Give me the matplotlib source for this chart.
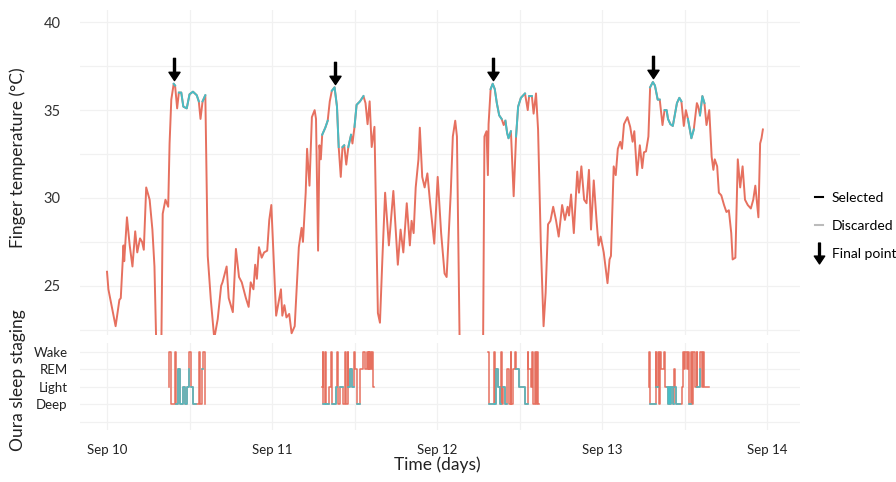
import numpy as np
import matplotlib
matplotlib.use("Agg")
import matplotlib.pyplot as plt
from matplotlib.path import Path
from matplotlib.lines import Line2D

plt.rcParams['font.family'] = ['Lato', 'DejaVu Sans']

RED = '#E6705F'
CYAN = '#47BDC5'
GRID = '#F1F1F1'

# finger temperature, hours since Sep 10 00:00
hours = [0.0, 0.2, 0.7, 1.25, 1.8, 2.0, 2.4, 2.5, 2.9, 3.3, 3.7, 4.1, 4.4, 4.8, 5.1, 5.35,
         5.7, 6.2, 6.6, 6.9, 7.2, 7.5, 7.9, 8.1, 8.5, 8.9, 9.1, 9.35, 9.7, 9.9, 10.2, 10.45,
         10.8, 11.1, 11.6, 12.0, 12.5, 13.05, 13.35, 13.6, 13.9, 14.3, 14.65, 15.1, 15.6, 16.1,
         16.6, 16.8, 17.4, 17.7, 18.3, 18.75, 19.2, 19.6, 20.2, 20.6, 20.9, 21.3, 21.55, 21.8,
         22.1, 22.5, 22.85, 23.3, 23.6, 23.9, 24.3, 24.6, 25.3, 25.5, 25.8, 26.1, 26.5, 26.85,
         27.3, 27.9, 28.3, 28.5, 28.9, 29.1, 29.45, 29.8, 30.2, 30.4, 30.7, 30.9, 31.1, 31.3,
         31.75, 32.1, 32.4, 32.7, 33.1, 33.45, 33.7, 34.0, 34.25, 34.5, 34.8, 35.1, 35.5, 35.7,
         36.0, 36.3, 36.8, 37.3, 37.6, 37.9, 38.2, 38.5, 38.9, 39.4, 39.7, 40.05, 40.45, 41.0,
         41.65, 42.3, 42.7, 43.1, 43.6, 44.05, 44.3, 44.6, 44.9, 45.3, 45.5, 45.85, 46.2, 46.6,
         47.0, 47.6, 48.1, 48.6, 49.1, 49.4, 50.0, 50.3, 50.65, 50.9, 51.3, 51.9, 52.5, 54.0,
         54.7, 54.9, 55.2, 55.4, 55.5, 55.8, 56.1, 56.4, 56.7, 57.05, 57.4, 57.7, 57.95, 58.2,
         58.4, 58.75, 59.15, 59.5, 59.8, 60.2, 60.8, 61.2, 61.4, 61.8, 62.05, 62.4, 62.7, 63.1,
         63.5, 63.8, 64.15, 64.5, 64.9, 65.3, 65.7, 66.2, 66.6, 67.0, 67.2, 67.5, 67.9, 68.4,
         68.65, 69.0, 69.4, 69.75, 70.1, 70.4, 70.8, 71.2, 71.5, 71.8, 72.25, 72.8, 73.1, 73.3,
         73.7, 74.0, 74.3, 74.65, 74.9, 75.2, 75.7, 76.1, 76.45, 76.7, 77.1, 77.5, 77.85, 78.1,
         78.4, 78.75, 79.0, 79.4, 79.7, 80.1, 80.4, 80.8, 81.1, 81.4, 81.6, 81.95, 82.3, 82.9,
         83.25, 83.55, 83.9, 84.2, 84.5, 85.0, 85.35, 85.8, 86.0, 86.25, 86.6, 86.9, 87.2, 87.6,
         87.95, 88.2, 88.4, 88.75, 89.0, 89.35, 89.75, 90.1, 90.45, 90.8, 91.0, 91.4, 91.75,
         92.1, 92.45, 92.8, 93.2, 93.65, 94.0, 94.3, 94.75, 95.0, 95.2, 95.4]
temp = [25.8, 24.8, 23.8, 22.7, 24.2, 24.3, 27.3, 26.4, 28.9, 27.3, 26.1, 28.1, 26.9, 27.7, 27.5, 27.05,
        30.6, 29.9, 28.2, 26.1, 21.0, 19.5, 21.5, 29.1, 29.9, 29.5, 33.1, 35.6, 36.5, 36.4, 35.1, 36.0,
        36.0, 35.2, 35.1, 35.9, 36.05, 35.85, 35.5, 34.5, 35.5, 35.85, 26.7, 24.2, 22.0, 23.1,
        25.0, 25.2, 26.1, 24.3, 23.5, 27.1, 25.5, 25.2, 24.3, 23.8, 25.2, 24.8, 26.2, 25.4,
        27.2, 26.6, 26.9, 27.0, 28.75, 29.6, 26.0, 23.3, 24.8, 23.3, 23.9, 23.2, 23.4, 22.3,
        22.7, 27.2, 28.3, 27.5, 30.3, 32.8, 30.7, 34.6, 35.0, 34.5, 27.0, 33.0, 32.2, 33.6,
        34.0, 34.4, 35.5, 36.1, 36.3, 35.2, 32.9, 31.2, 32.9, 33.0, 31.9, 32.9, 33.6, 33.1,
        34.05, 35.3, 35.5, 35.8, 35.4, 34.2, 35.5, 32.9, 34.05, 23.45, 22.9, 26.5, 30.3, 27.3,
        30.4, 26.2, 28.2, 26.9, 29.7, 27.3, 28.7, 28.0, 30.6, 32.2, 34.0, 31.2, 30.6, 31.4,
        29.7, 27.4, 31.2, 28.0, 25.7, 25.5, 30.3, 33.5, 34.4, 33.5, 21.5, 22.1, 21.0, 19.5,
        21.5, 33.5, 33.8, 31.3, 34.2, 36.2, 36.5, 36.2, 35.4, 34.7, 34.5, 34.15, 34.4, 33.7,
        33.4, 33.8, 30.1, 33.5, 35.2, 35.7, 35.95, 35.0, 35.8, 35.8, 34.8, 35.95, 33.9, 27.4,
        22.7, 24.6, 28.5, 28.7, 29.5, 28.75, 27.8, 29.6, 28.75, 29.5, 29.0, 30.2, 28.0, 31.5,
        30.3, 31.8, 29.9, 29.7, 31.6, 28.2, 31.0, 28.75, 27.3, 27.8, 26.9, 25.15, 26.5, 26.7,
        31.8, 31.3, 32.8, 33.2, 32.8, 34.2, 34.6, 34.05, 33.2, 33.8, 31.3, 33.0, 31.7, 32.6,
        32.65, 33.5, 36.3, 36.6, 36.4, 35.6, 35.6, 34.15, 35.0, 35.0, 34.5, 34.2, 34.1, 35.4,
        35.7, 35.5, 34.1, 35.0, 34.5, 33.4, 33.9, 35.4, 35.2, 34.7, 35.8, 35.4, 34.15, 35.0,
        32.35, 31.6, 32.2, 31.8, 30.3, 30.15, 29.6, 29.2, 29.3, 28.0, 26.5, 26.6, 32.2,
        30.6, 31.8, 29.9, 29.6, 29.4, 29.9, 30.7, 28.9, 33.1, 33.4, 33.9]

# time windows (hours) where the temperature samples were selected
selected_windows = [(9.5, 10.0), (10.4, 13.4), (13.85, 14.35),
                    (31.2, 32.15), (32.6, 33.75), (34.2, 34.55), (35.05, 35.55), (35.95, 37.35),
                    (55.75, 56.75), (57.0, 57.45), (57.9, 58.8), (59.45, 61.0), (61.35, 61.85),
                    (78.9, 80.5), (81.0, 82.35), (82.8, 83.6), (84.4, 85.4), (86.2, 86.95)]

# final points (arrows)
final_hours = [9.7, 33.1, 56.1, 79.4]
final_temp = [36.5, 36.3, 36.5, 36.6]

# Oura sleep staging: 1 Deep, 2 Light, 3 REM, 4 Wake ; (start hour, stage, selected)
nights = [
    [(8.97, 2, 0), (9.0, 4, 0), (9.35, 1, 0), (9.95, 4, 0), (10.0, 2, 0), (10.05, 1, 1),
     (10.3, 3, 1), (10.65, 1, 1), (11.0, 2, 1), (11.4, 1, 1), (11.65, 2, 1), (11.9, 3, 1),
     (11.95, 4, 0), (12.2, 2, 1), (12.5, 1, 1), (12.95, 1, 0), (13.4, 4, 0), (13.55, 1, 0),
     (13.8, 3, 1), (13.95, 4, 0), (14.2, 1, 0), (14.3, 1, 0)],
    [(31.3, 2, 0), (31.35, 4, 0), (31.45, 1, 1), (31.75, 4, 0), (31.85, 1, 1), (32.3, 2, 0),
     (32.6, 4, 0), (32.7, 1, 1), (33.3, 2, 1), (33.45, 4, 0), (33.55, 1, 0), (33.9, 2, 1),
     (34.3, 1, 0), (34.6, 4, 0), (34.7, 1, 0), (35.0, 4, 0), (35.1, 2, 1), (35.4, 3, 1),
     (35.6, 2, 1), (35.9, 4, 0), (36.0, 3, 0), (36.3, 1, 1), (36.8, 3, 0), (37.3, 4, 0),
     (37.5, 3, 0), (37.8, 4, 0), (37.95, 3, 0), (38.05, 4, 0), (38.15, 3, 0), (38.25, 4, 0),
     (38.4, 3, 0), (38.5, 4, 0), (38.7, 2, 0), (38.9, 2, 0)],
    [(55.4, 4, 0), (55.5, 1, 1), (56.3, 4, 0), (56.4, 1, 1), (56.6, 3, 1), (56.8, 2, 1),
     (57.1, 1, 1), (57.3, 4, 0), (57.4, 1, 0), (57.6, 2, 1), (57.9, 1, 1), (58.2, 3, 0),
     (58.4, 2, 0), (58.5, 1, 0), (58.7, 4, 0), (58.8, 1, 0), (59.0, 3, 0), (59.3, 4, 0),
     (59.5, 3, 1), (59.9, 2, 1), (60.4, 2, 1), (60.8, 1, 1), (61.2, 4, 0), (61.3, 3, 0),
     (61.6, 2, 0), (61.8, 4, 0), (62.0, 1, 0), (62.2, 4, 0), (62.4, 1, 0), (62.5, 4, 0),
     (62.7, 1, 0), (62.8, 1, 0)],
    [(78.8, 2, 0), (78.85, 4, 0), (78.95, 1, 1), (79.8, 4, 0), (79.9, 2, 1), (80.1, 4, 0),
     (80.3, 1, 0), (80.45, 4, 0), (80.55, 3, 0), (81.0, 4, 0), (81.2, 2, 0), (81.4, 2, 1),
     (81.6, 1, 1), (81.8, 2, 1), (81.95, 1, 1), (82.1, 2, 1), (82.3, 1, 1), (82.5, 3, 0),
     (82.6, 2, 1), (82.8, 1, 1), (83.35, 1, 0), (83.6, 2, 0), (83.8, 4, 0), (83.9, 3, 0),
     (84.1, 4, 0), (84.3, 3, 0), (84.55, 4, 0), (84.7, 1, 1), (85.0, 4, 0), (85.1, 1, 0),
     (85.3, 4, 0), (85.5, 2, 0), (85.75, 4, 0), (85.85, 2, 1), (86.2, 3, 1), (86.3, 4, 0),
     (86.5, 2, 0), (86.7, 4, 0), (86.8, 2, 0), (87.6, 2, 0)],
]
stage_names = ['Deep', 'Light', 'REM', 'Wake']
day_ticks = [0, 24, 48, 72, 96]
day_labels = ['Sep 10', 'Sep 11', 'Sep 12', 'Sep 13', 'Sep 14']

hours = np.array(hours)
temp = np.array(temp)
sel = np.zeros(len(hours), bool)
for a, b in selected_windows:
    sel |= (hours >= a) & (hours <= b)
temp_sel = np.where(sel, temp, np.nan)

# down arrow marker
arrow = Path([(-0.09, 1), (0.09, 1), (0.09, -0.25), (0.5, -0.25), (0, -1),
              (-0.5, -0.25), (-0.09, -0.25), (-0.09, 1)],
             [Path.MOVETO] + [Path.LINETO] * 6 + [Path.CLOSEPOLY])

fig = plt.figure(figsize=(8.96, 4.82), dpi=100)
ax1 = fig.add_axes([80/896, 1-335/482, 720/896, 325/482])
ax2 = fig.add_axes([80/896, 1-430/482, 720/896, 87/482], sharex=ax1)

xlim = (-3.93, 100.8)

ax1.plot(hours, temp, color=RED, lw=1.4, zorder=2)
ax1.plot(hours, temp_sel, color=CYAN, lw=1.4, zorder=3)
ax1.plot(final_hours, np.array(final_temp) + 0.83, ls='none', marker=arrow,
         ms=16, color='black', mec='black', zorder=4)
ax1.set_ylim(22.2, 40.7)
ax1.set_yticks([25, 30, 35, 40])
ax1.set_yticks([22.5, 27.5, 32.5, 37.5], minor=True)

for n in nights:
    t = [p[0] for p in n]
    s = np.array([p[1] for p in n], float)
    f = np.array([p[2] for p in n], bool)
    ax2.step(t, s, where='post', color=RED, lw=1.1, zorder=2)
    ax2.step(t, np.where(f, s, np.nan), where='post', color=CYAN, lw=1.1, zorder=3)
ax2.set_ylim(-0.46, 4.51)
ax2.set_yticks([0, 1, 2, 3, 4])
ax2.set_yticklabels([''] + stage_names)

for ax in (ax1, ax2):
    ax.set_xlim(*xlim)
    ax.set_xticks(day_ticks)
    ax.set_xticks([12, 36, 60, 84], minor=True)
    ax.grid(True, which='both', color=GRID, lw=0.9, zorder=0)
    for sp in ax.spines.values():
        sp.set_visible(False)
    ax.tick_params(which='both', length=0)
    ax.set_axisbelow(True)

ax1.tick_params(axis='x', labelbottom=False)
ax1.tick_params(axis='y', labelsize=10.5, pad=14, colors='#333333')
ax2.tick_params(axis='y', labelsize=9.5, pad=9, colors='#222222')
ax2.set_xticklabels(day_labels)
ax2.tick_params(axis='x', labelsize=9.5, pad=10, colors='#222222')

fig.text(18/896, 1-158/482, 'Finger temperature (°C)', rotation=90,
         ha='center', va='center', fontsize=12.5, color='#222222')
fig.text(18/896, 1-380/482, 'Oura sleep staging', rotation=90,
         ha='center', va='center', fontsize=12.5, color='#222222')
fig.text(437/896, 1-465/482, 'Time (days)', ha='center', va='center',
         fontsize=12.5, color='#222222')

handles = [Line2D([], [], color='black', lw=1.5),
           Line2D([], [], color='#BBBBBB', lw=1.5),
           Line2D([], [], ls='none', marker=arrow, ms=15, color='black')]
fig.legend(handles, ['Selected', 'Discarded', 'Final point'], loc='center left',
           bbox_to_anchor=(815/896, 1-226/482), frameon=False, fontsize=10,
           handlelength=0.6, handletextpad=0.6, labelspacing=1.15,
           borderaxespad=0, borderpad=0)

fig.savefig('out.png', dpi=100)
